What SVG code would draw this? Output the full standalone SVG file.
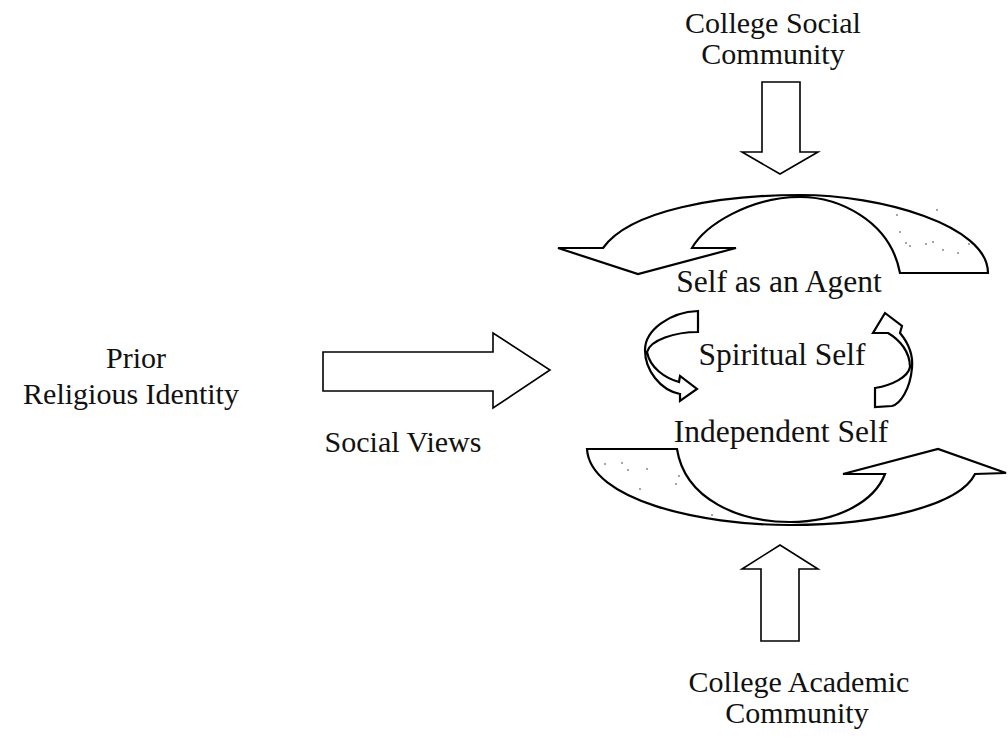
<svg xmlns="http://www.w3.org/2000/svg" width="1008" height="742" viewBox="0 0 1008 742">
<style>
.lbl{font-family:"Liberation Serif","Times New Roman",serif;font-size:30px;fill:#111;text-anchor:middle}
.big{font-size:31.5px}
.shape{fill:#fff;stroke:#000;stroke-width:2.2;stroke-linejoin:miter}
.thin{fill:#fff;stroke:#000;stroke-width:1.6}
.dot{fill:#333}
</style>
<rect width="1008" height="742" fill="#fff"/>
<g id="college-social">
<text class="lbl" x="773" y="33">College Social</text>
<text class="lbl" x="773" y="64">Community</text>
</g>
<g id="college-academic">
<text class="lbl" x="799" y="692">College Academic</text>
<text class="lbl" x="797" y="723">Community</text>
</g>
<g id="prior-religious-identity">
<text class="lbl" x="136" y="368">Prior</text>
<text class="lbl" x="131" y="404">Religious Identity</text>
</g>
<g id="self-as-agent">
<text class="lbl big" x="779" y="292">Self as an Agent</text>
</g>
<g id="spiritual-self">
<text class="lbl big" x="782" y="365">Spiritual Self</text>
</g>
<g id="independent-self">
<text class="lbl big" x="781" y="442">Independent Self</text>
</g>
<g id="social-views">
<text class="lbl" x="403" y="452">Social Views</text>
</g>
<g id="connectors">
<path class="thin" d="M762,82 L800,82 L800,152 L818,152 L780,174 L742,152 L762,152 Z"/>
<path class="thin" d="M761,641 L799,641 L799,569 L818,569 L780,545 L742,569 L761,569 Z"/>
<path class="thin" d="M323,352 L493,352 L493,333 L550,370 L493,408 L493,391 L323,391 Z"/>
<path class="shape" d="M900,273 L988,273 C988,225 880,195 800,195 C720,195 630,210 603,248 L558,248 L638,274 L736,248 L692,248 C705,225 750,197 800,197 C838,197 890,220 900,273 Z"/>
<path class="shape" d="M587,449 L677,449 C685,500 740,522 790,522 C840,522 875,500 885,474 L843,474 L938,449 L1006,473 L975,474 C960,505 880,525 790,525 C700,525 590,500 587,449 Z"/>
<path class="shape" d="M698,311 L698,332 C675,332 650,340 647,352 C650,368 665,378 679,382 L680,376 L697,389 L680,401 L680,394 C660,390 645,370 645,350 C645,330 670,312 698,311 Z"/>
<path class="shape" d="M875,407 L875,388 C893,385 908,377 910,367 C910,352 900,340 888,333 L873,333 L885,313 L902,326 L900,333 C910,345 913,358 912,368 C910,390 900,404 892,406 Z"/>
<g class="dot">
<circle cx="937" cy="210" r="0.8"/><circle cx="897" cy="215" r="0.8"/><circle cx="900" cy="232" r="0.8"/><circle cx="906" cy="243" r="0.8"/><circle cx="926" cy="244" r="0.8"/><circle cx="933" cy="242" r="0.8"/><circle cx="943" cy="250" r="0.8"/><circle cx="969" cy="244" r="0.8"/><circle cx="910" cy="246" r="0.8"/><circle cx="958" cy="253" r="0.8"/>
<circle cx="605" cy="464" r="0.8"/><circle cx="622" cy="463" r="0.8"/><circle cx="628" cy="470" r="0.8"/><circle cx="647" cy="469" r="0.8"/><circle cx="640" cy="489" r="0.8"/><circle cx="676" cy="484" r="0.8"/><circle cx="679" cy="476" r="0.8"/><circle cx="712" cy="515" r="0.8"/>
</g>
</g>
</svg>
